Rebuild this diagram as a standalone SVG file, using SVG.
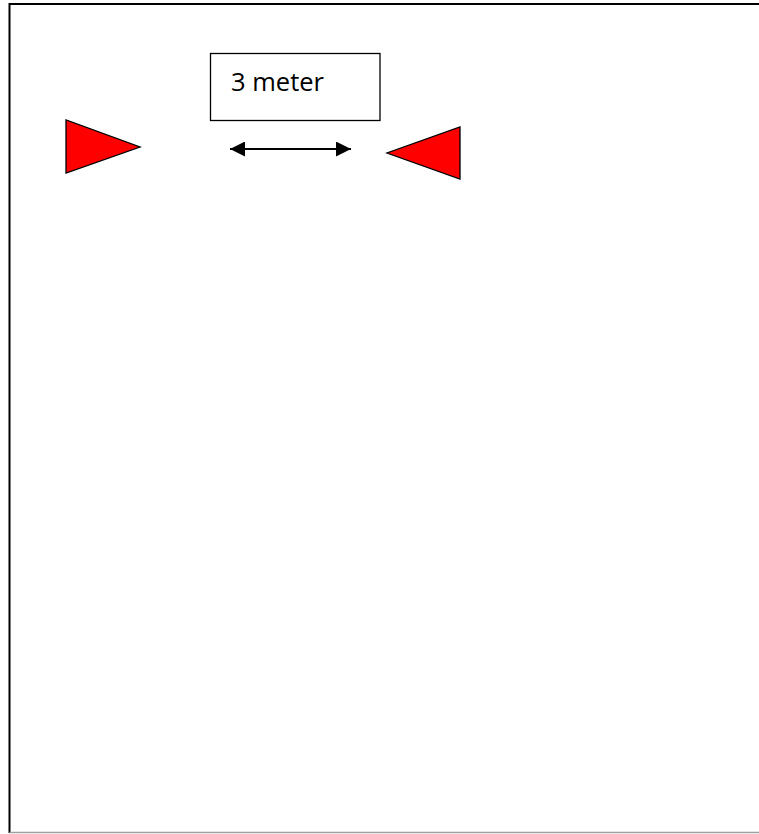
<svg xmlns="http://www.w3.org/2000/svg" width="759" height="834" viewBox="0 0 759 834">
<style>
.flag{fill:#ff0000;stroke:#000;stroke-width:1.3}
.box{fill:#fff;stroke:#000;stroke-width:1.3}
.lbl{font-family:"Open Sans","Liberation Sans",sans-serif;font-size:25.5px;fill:#000}
.conn{stroke:#000;stroke-width:2;fill:none}
</style>
<defs>
<marker id="ah" viewBox="0 0 15 15" refX="15" refY="7.5" markerWidth="15" markerHeight="15" markerUnits="userSpaceOnUse" orient="auto-start-reverse">
<path d="M0,0 L15,7.5 L0,15 Z" fill="#000"/>
</marker>
</defs>
<rect width="759" height="834" fill="#fff"/>
<line x1="9.5" y1="4" x2="759" y2="4" stroke="#000" stroke-width="2"/>
<line x1="9.5" y1="3" x2="9.5" y2="833" stroke="#000" stroke-width="2"/>
<line x1="9.5" y1="832.5" x2="759" y2="832.5" stroke="#a0a0a0" stroke-width="1.5"/>
<g id="flag-left"><polygon class="flag" points="66,120 66,173 140,147"/></g>
<g id="flag-right"><polygon class="flag" points="460,127 460,179 387,153"/></g>
<g id="label"><rect class="box" x="210.5" y="53.5" width="169.5" height="67"/><text class="lbl" x="231" y="91">3 meter</text></g>
<g id="connectors"><line class="conn" x1="230" y1="149" x2="351" y2="149" marker-start="url(#ah)" marker-end="url(#ah)"/></g>
</svg>
